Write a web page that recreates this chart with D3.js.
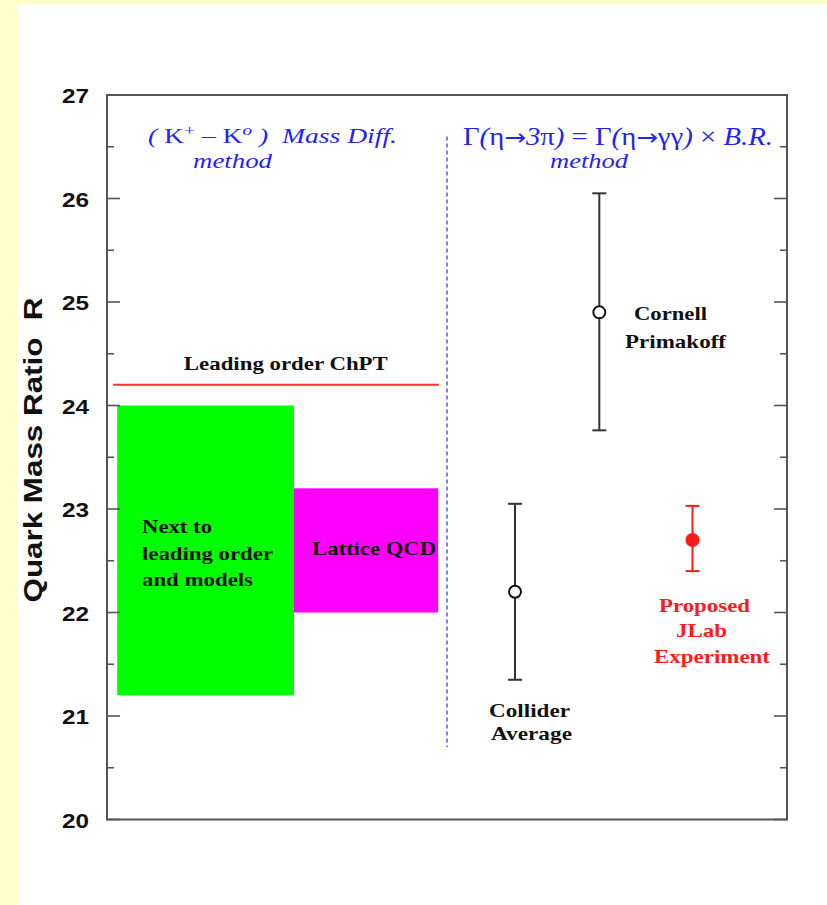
<!DOCTYPE html>
<html>
<head>
<meta charset="utf-8">
<script src="https://cdn.jsdelivr.net/npm/d3@7"></script>
<style>
  html, body { margin: 0; padding: 0; background: #ffffcc; }
  svg { display: block; }
</style>
</head>
<body>
<script>
// ---- data -------------------------------------------------------------
// vertical axis: quark mass ratio R
const yTicksMajor = [20, 21, 22, 23, 24, 25, 26, 27];
const yTicksMinor = [20.5, 21.5, 22.5, 23.5, 24.5, 25.5, 26.5];

// theoretical bands (abscissa is an arbitrary layout coordinate)
const bandNames  = ["Next to leading order and models", "Lattice QCD"];
const bandX0     = [0.15, 2.75];
const bandX1     = [2.75, 4.87];
const bandLow    = [21.2, 22.0];
const bandHigh   = [24.0, 23.2];
const bandColors = ["#00ff00", "#ff00ff"];

// leading order ChPT value
const lo_value = 24.2;
const lo_x     = [0.09, 4.88];

// separator between the two methods
const sepX     = 5.0;
const sepRange = [20.7, 26.6];

// eta -> 3 pi measurements
const measNames  = ["Collider Average", "Cornell Primakoff", "Proposed JLab Experiment"];
const measX      = [6.0, 7.24, 8.61];
const measValue  = [22.2, 24.9, 22.7];
const measLow    = [21.35, 23.76, 22.4];
const measHigh   = [23.05, 26.05, 23.03];
const measOpen   = [true, true, false];
const measColors = ["#333333", "#333333", "#ff1a1a"];

// ---- layout -------------------------------------------------------------
const W = 827, H = 905;
const plot = { left: 107, right: 787, top: 95, bottom: 819.5 };

const svg = d3.select("body").append("svg")
  .attr("width", W).attr("height", H);

// white panel on the pale yellow page
svg.append("rect").attr("x", 17).attr("y", 4)
  .attr("width", W - 17).attr("height", H - 4).attr("fill", "#ffffff");

const x = d3.scaleLinear().domain([0, 10]).range([plot.left, plot.right]);
const y = d3.scaleLinear().domain([20, 27]).range([plot.bottom, plot.top]);

// ---- bands ----------------------------------------------------------------
svg.append("g").selectAll("rect")
  .data(bandNames.map((n, i) => ({ n, x0: bandX0[i], x1: bandX1[i], lo: bandLow[i], hi: bandHigh[i], c: bandColors[i] })))
  .join("rect")
  .attr("x", d => x(d.x0))
  .attr("width", d => x(d.x1) - x(d.x0))
  .attr("y", d => y(d.hi))
  .attr("height", d => y(d.lo) - y(d.hi))
  .attr("fill", d => d.c);

// leading order line
svg.append("line")
  .attr("x1", x(lo_x[0])).attr("x2", x(lo_x[1]))
  .attr("y1", y(lo_value)).attr("y2", y(lo_value))
  .attr("stroke", "#ff3030").attr("stroke-width", 2);

// dashed separator
svg.append("line")
  .attr("x1", x(sepX)).attr("x2", x(sepX))
  .attr("y1", y(sepRange[1])).attr("y2", y(sepRange[0]))
  .attr("stroke", "#3a3af5").attr("stroke-width", 1.3)
  .attr("stroke-dasharray", "4,3");

// ---- frame and axes ---------------------------------------------------------
const axisColor = "#555555";
const frame = svg.append("g");
frame.append("rect")
  .attr("x", plot.left).attr("y", plot.top)
  .attr("width", plot.right - plot.left).attr("height", plot.bottom - plot.top)
  .attr("fill", "none").attr("stroke", axisColor).attr("stroke-width", 2);

function inwardTicks(values, len, side) {
  frame.append("g").selectAll("line")
    .data(values).join("line")
    .attr("x1", side === "left" ? plot.left : plot.right)
    .attr("x2", side === "left" ? plot.left + len : plot.right - len)
    .attr("y1", d => y(d)).attr("y2", d => y(d))
    .attr("stroke", axisColor).attr("stroke-width", 1.6);
}
inwardTicks(yTicksMajor, 13, "left");
inwardTicks(yTicksMinor, 7, "left");
inwardTicks(yTicksMajor, 13, "right");
inwardTicks(yTicksMinor, 7, "right");

// tick labels drawn through a d3 axis
const yAxis = d3.axisLeft(y).tickValues(yTicksMajor).tickSize(0).tickPadding(0)
  .tickFormat(d3.format("d"));
const yAxisG = svg.append("g")
  .attr("transform", `translate(${plot.left - 18},0)`)
  .call(yAxis);
yAxisG.select(".domain").remove();
yAxisG.selectAll("text")
  .attr("font-family", "Liberation Sans, Arial, sans-serif")
  .attr("font-weight", "bold")
  .attr("font-size", 21)
  .attr("fill", "#111")
  .attr("dy", "0.36em")
  .attr("textLength", 27)
  .attr("lengthAdjust", "spacingAndGlyphs");

// axis title
svg.append("text")
  .attr("transform", `translate(42,${450}) rotate(-90)`)
  .attr("text-anchor", "middle")
  .attr("font-family", "Liberation Sans, Arial, sans-serif")
  .attr("font-weight", "bold")
  .attr("font-size", 25)
  .attr("fill", "#111")
  .attr("textLength", 305)
  .attr("lengthAdjust", "spacingAndGlyphs")
  .style("white-space", "pre")
  .text("Quark Mass Ratio\u00a0\u00a0R");

// ---- measurements -----------------------------------------------------------
const meas = measNames.map((n, i) => ({ n, x: measX[i], v: measValue[i], lo: measLow[i], hi: measHigh[i], open: measOpen[i], c: measColors[i] }));
const mg = svg.append("g").selectAll("g").data(meas).join("g");
mg.append("line")
  .attr("x1", d => x(d.x)).attr("x2", d => x(d.x))
  .attr("y1", d => y(d.hi)).attr("y2", d => y(d.lo))
  .attr("stroke", d => d.c).attr("stroke-width", 2);
["hi", "lo"].forEach(k => {
  mg.append("line")
    .attr("x1", d => x(d.x) - 7).attr("x2", d => x(d.x) + 7)
    .attr("y1", d => y(d[k])).attr("y2", d => y(d[k]))
    .attr("stroke", d => d.c).attr("stroke-width", 2);
});
mg.append("circle")
  .attr("cx", d => x(d.x)).attr("cy", d => y(d.v))
  .attr("r", 6)
  .attr("fill", d => d.open ? "#ffffff" : d.c)
  .attr("stroke", d => d.open ? "#111" : d.c)
  .attr("stroke-width", 2);

// ---- labels ------------------------------------------------------------------
// [text, x, y(baseline), width, colour]
const labels = [
  ["Leading order ChPT", 1.13, 24.343, 204, "#111"],
  ["Next to",            0.515, 22.768, 70, "#111"],
  ["leading order",      0.515, 22.512, 131, "#111"],
  ["and models",         0.515, 22.256, 111, "#111"],
  ["Lattice QCD",        3.015, 22.556, 124, "#111"],
  ["Collider",           5.618, 20.990, 81, "#111"],
  ["Average",            5.647, 20.768, 81, "#111"],
  ["Cornell",            7.75,  24.826, 73, "#111"],
  ["Primakoff",          7.618, 24.556, 101, "#111"],
  ["Proposed",           8.118, 22.005, 91, "#ff1a1a"],
  ["JLab",               8.368, 21.763, 51, "#ff1a1a"],
  ["Experiment",         8.044, 21.512, 116, "#ff1a1a"]
];
svg.append("g").selectAll("text").data(labels).join("text")
  .attr("x", d => x(d[1])).attr("y", d => y(d[2]))
  .attr("font-family", "Liberation Serif, Times New Roman, serif")
  .attr("font-weight", "bold")
  .attr("font-size", 19)
  .attr("fill", d => d[4])
  .attr("textLength", d => d[3])
  .attr("lengthAdjust", "spacingAndGlyphs")
  .text(d => d[0]);

// ---- method headings ------------------------------------------------------------
const blue = "#2424f2";
function heading(xv, yv, width, size, parts) {
  const t = svg.append("text")
    .attr("x", x(xv)).attr("y", y(yv))
    .attr("font-family", "Liberation Serif, Times New Roman, serif")
    .attr("font-size", size)
    .attr("fill", blue)
    .attr("textLength", width)
    .attr("lengthAdjust", "spacingAndGlyphs")
    .style("white-space", "pre");
  parts.forEach(([s, style]) => {
    const ts = t.append("tspan")
      .attr("font-style", style === "i" || style === "isup" ? "italic" : "normal")
      .text(s);
    if (style === "sup" || style === "isup")
      ts.attr("baseline-shift", "super").attr("font-size", size * 0.7);
    if (style === "arrow")
      ts.attr("font-family", "DejaVu Sans, sans-serif").attr("font-size", size * 0.9);
  });
  return t;
}
// ( K+ - Ko ) Mass Diff.
heading(0.603, 26.536, 249, 21, [
  ["( ", "i"], ["K", "n"], ["+", "sup"], [" \u2013 ", "n"],
  ["K", "n"], ["o", "isup"], [" )", "i"], ["  Mass Diff.", "i"]
]);
heading(1.265, 26.295, 79, 21, [["method", "i"]]);

// Gamma(eta -> 3pi) = Gamma(eta -> gamma gamma) x B.R.
heading(5.235, 26.517, 310, 25, [
  ["\u0393", "n"], ["(", "i"], ["\u03b7", "n"], ["\u2192", "arrow"], ["3", "i"], ["\u03c0", "n"],
  [")", "i"], [" = \u0393", "n"], ["(", "i"], ["\u03b7", "n"], ["\u2192", "arrow"], ["\u03b3\u03b3", "n"],
  [")", "i"], [" \u00d7 ", "n"], ["B.R.", "i"]
]);
heading(6.515, 26.295, 78, 21, [["method", "i"]]);
</script>
</body>
</html>
